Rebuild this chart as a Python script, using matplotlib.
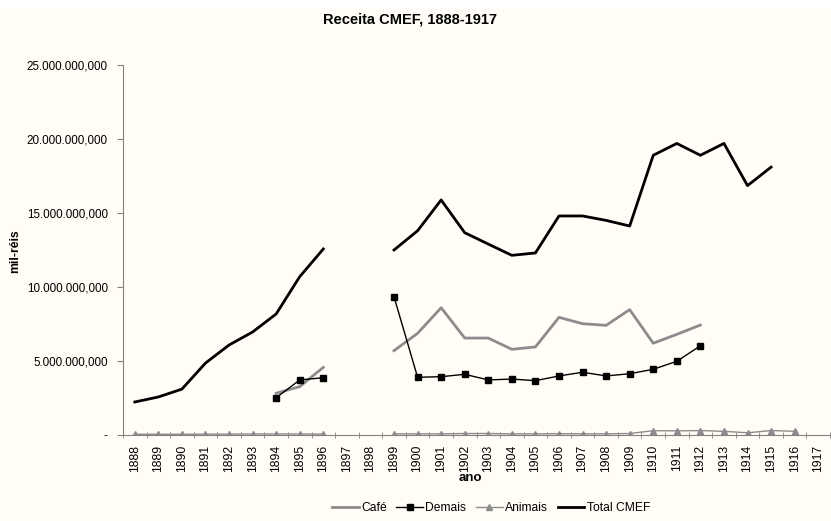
import numpy as np
import matplotlib.pyplot as plt
from matplotlib.ticker import FuncFormatter
from matplotlib.patches import Rectangle

plt.rcParams['font.family'] = ['Liberation Sans', 'DejaVu Sans']

nan = np.nan
years = list(range(1888, 1918))

# values in millions of mil-réis
total = [2.23, 2.57, 3.10, 4.86, 6.08, 6.96, 8.18, 10.70, 12.57, nan, nan,
         12.50, 13.80, 15.88, 13.67, 12.90, 12.14, 12.30, 14.80, 14.80, 14.50,
         14.12, 18.90, 19.70, 18.90, 19.70, 16.85, 18.10, nan, nan]
cafe = [nan, nan, nan, nan, nan, nan, 2.82, 3.27, 4.57, nan, nan,
        5.70, 6.87, 8.60, 6.55, 6.55, 5.79, 5.95, 7.95, 7.52, 7.41,
        8.47, 6.20, 6.80, 7.43, nan, nan, nan, nan, nan]
demais = [nan, nan, nan, nan, nan, nan, 2.52, 3.72, 3.87, nan, nan,
          9.34, 3.90, 3.94, 4.10, 3.72, 3.78, 3.67, 3.99, 4.24, 3.99,
          4.14, 4.44, 4.98, 6.03, nan, nan, nan, nan, nan]
animais = [0.05, 0.05, 0.05, 0.06, 0.06, 0.07, 0.07, 0.07, 0.06, nan, nan,
           0.08, 0.08, 0.08, 0.10, 0.10, 0.08, 0.08, 0.09, 0.08, 0.08,
           0.10, 0.29, 0.28, 0.30, 0.25, 0.15, 0.30, 0.25, nan]

scale = 1e6
bg = '#fffdf5'
axc = '#808080'

fig = plt.figure(figsize=(8.31, 5.21), dpi=100, facecolor=bg)
fig.patches.append(Rectangle((0, 1 - 9 / 521), 1, 9 / 521, transform=fig.transFigure,
                             facecolor='white', edgecolor='none', zorder=-1))
ax = fig.add_axes([123 / 831, 1 - 435 / 521, (830 - 123) / 831, (435 - 65) / 521])
ax.set_facecolor(bg)

x = np.array(years)
ax.plot(x, np.array(cafe) * scale, color='#8c8c8c', lw=2.0, label='Café')
ax.plot(x, np.array(demais) * scale, color='black', lw=1.0, marker='s',
        ms=4.5, label='Demais')
ax.plot(x, np.array(animais) * scale, color='#8c8c8c', lw=1.0, marker='^',
        ms=4.5, label='Animais')
ax.plot(x, np.array(total) * scale, color='black', lw=2.0, label='Total CMEF')

ax.set_xlim(1887.5, 1917.5)
ax.set_ylim(0, 25e6)
ax.set_yticks(np.arange(0, 26e6, 5e6))


def fmt(v, pos):
    if v == 0:
        return '-'
    return f"{v:,.3f}".replace(',', 'X').replace('.', ',').replace('X', '.')


ax.yaxis.set_major_formatter(FuncFormatter(fmt))
ax.set_xticks(years)
ax.set_xticklabels([str(y) for y in years], rotation=90, fontsize=8.7)
ax.set_xticks(np.arange(1887.5, 1918, 1), minor=True)
ax.tick_params(axis='x', which='major', length=0, pad=7)
ax.tick_params(axis='x', which='minor', length=4, color=axc, direction='inout')
ax.tick_params(axis='y', labelsize=8.4, length=4, color=axc, pad=7)

for s in ('top', 'right'):
    ax.spines[s].set_visible(False)
for s in ('left', 'bottom'):
    ax.spines[s].set_color(axc)

fig.text(15 / 831, 1 - 251 / 521, 'mil-réis', fontsize=8.7, fontweight='bold',
         rotation=90, ha='center', va='center')
fig.text(470 / 831, 1 - 478 / 521, 'ano', fontsize=9.5, fontweight='bold',
         ha='center', va='center')
fig.text(410 / 831, 1 - 20 / 521, 'Receita CMEF, 1888-1917', fontsize=10.5,
         fontweight='bold', ha='center', va='center')

fig.legend(loc='center', bbox_to_anchor=(491 / 831, 1 - 508 / 521), ncol=4,
           frameon=False, fontsize=8.7, handlelength=2.2, handletextpad=0.2,
           columnspacing=0.8)

fig.savefig('out.png', dpi=100, facecolor=bg)
